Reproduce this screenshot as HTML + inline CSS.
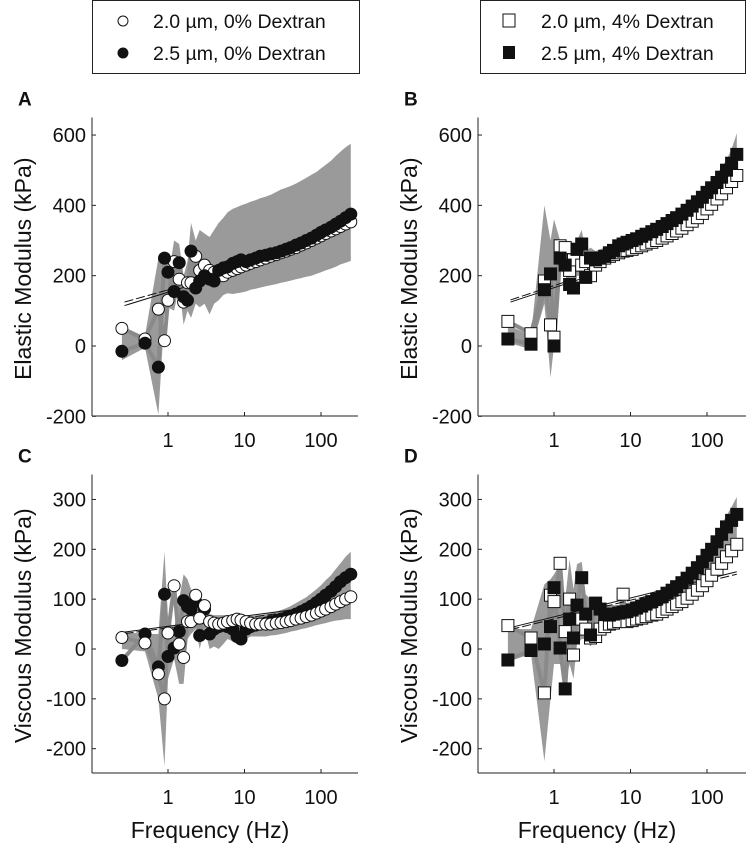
<!DOCTYPE html>
<html><head><meta charset="utf-8">
<style>
body{margin:0;background:#fff;}
svg{display:block;font-family:"Liberation Sans",Arial,sans-serif;}
</style></head>
<body>
<svg id="fig" width="746" height="845" viewBox="0 0 746 845">
<g>
<rect x="92.5" y="0.5" width="267" height="73" fill="#fff" stroke="#222"/>
<circle cx="123" cy="21" r="5" fill="#fff" stroke="#111"/>
<text x="153" y="28" font-size="19.5" fill="#111">2.0 µm, 0% Dextran</text>
<circle cx="123" cy="53" r="5.5" fill="#111"/>
<text x="153" y="60" font-size="19.5" fill="#111">2.5 µm, 0% Dextran</text>
</g>
<g>
<rect x="480.5" y="0.5" width="265" height="73" fill="#fff" stroke="#222"/>
<rect x="503" y="14" width="12" height="13" fill="#fff" stroke="#111"/>
<text x="541" y="28" font-size="19.5" fill="#111">2.0 µm, 4% Dextran</text>
<rect x="503" y="46" width="12" height="13" fill="#111"/>
<text x="541" y="60" font-size="19.5" fill="#111">2.5 µm, 4% Dextran</text>
</g>
</svg>
<script>
const freq=[0.25,0.5,0.75,0.9,1.0,1.2,1.4,1.6,1.8,2.0,2.3,2.6,3.0,3.5,4,4.6,5.3,6,7,8,9,10.5,12,14,16,19,22,26,30,35,40,47,55,64,75,87,100,115,135,155,180,210,245];
const xTicks=[1,10,100];
const xTickLabels=["1","10","100"];
const elasticTicks=[-200,0,200,400,600];
const viscousTicks=[-200,-100,0,100,200,300];

const aOpen=[50,20,105,15,130,240,190,125,180,180,255,215,230,215,210,205,200,210,215,220,225,230,235,240,245,250,255,260,265,270,275,280,287,293,300,307,313,320,327,333,340,347,353];
const aFilled=[-15,8,-60,250,210,155,237,140,130,270,165,185,200,190,185,215,222,225,235,240,245,240,245,250,255,258,262,265,270,275,280,287,293,300,307,315,323,330,338,346,355,365,375];
const aUpper=[40,30,250,260,190,300,290,200,240,350,300,330,320,310,330,350,365,380,390,395,400,405,410,415,420,425,430,438,445,450,455,462,470,478,487,495,505,515,527,540,553,565,575];
const aLower=[-40,-5,-195,90,110,100,170,60,100,80,120,110,120,90,120,130,145,150,148,150,152,155,160,163,166,170,173,176,180,183,186,190,193,197,200,205,210,215,220,225,232,237,242];
const aFitF=[0.27,6];
const aFitSolid=[115,205];
const aFitDashed=[125,207];

const bOpen=[70,35,185,60,25,285,280,215,245,275,230,240,200,230,240,250,255,260,265,270,272,275,280,285,290,295,300,307,313,320,327,335,345,355,365,377,390,403,418,433,450,468,485];
const bFilled=[20,5,160,205,0,250,230,175,165,275,290,195,250,245,250,255,265,272,285,290,295,300,305,312,318,325,332,340,348,357,365,375,386,398,410,423,437,450,465,480,500,520,545];
const bUpper=[60,30,400,300,360,300,280,260,280,300,330,270,280,270,275,280,285,290,300,305,310,315,320,327,333,340,347,355,363,372,380,390,402,415,428,442,457,472,490,508,530,560,605];
const bLower=[10,-10,120,-90,0,220,200,180,150,200,200,190,210,215,225,235,240,245,250,255,258,262,266,270,275,280,285,292,298,305,312,320,330,340,350,362,375,388,402,418,435,452,470];
const bFitF=[0.27,3];
const bFitSolid=[125,200];
const bFitDashed=[131,206];

const cOpen=[23,12,-50,-100,32,127,10,-17,55,55,108,62,87,55,52,50,52,55,57,60,58,55,52,50,50,50,50,52,53,55,57,60,62,65,68,72,76,80,85,90,95,100,105];
const cFilled=[-23,30,-36,110,-15,2,35,97,85,80,95,27,80,30,40,45,48,45,40,25,20,40,45,48,50,52,55,57,60,63,66,70,75,80,86,93,100,108,116,125,135,143,150];
const cUpper=[35,30,30,195,60,40,100,150,140,120,110,100,95,70,68,68,68,68,66,66,66,66,66,67,68,70,72,75,78,82,86,92,98,104,112,120,128,138,148,160,172,185,195];
const cLower=[0,-5,-100,-235,-60,-20,-70,-70,20,30,40,0,40,0,5,0,10,20,15,10,15,20,25,25,25,25,27,28,30,32,35,37,40,42,45,48,50,52,55,57,58,60,60];
const cFitF=[0.27,245];
const cFitSolid=[34,94];
const cFitDashed=[31,90];

const dOpen=[47,22,-88,108,95,172,35,100,-12,60,60,40,22,25,40,45,50,52,55,110,55,57,60,62,65,68,70,75,80,85,90,95,102,110,118,127,137,148,160,172,185,197,210];
const dFilled=[-22,-3,10,45,123,2,-80,60,22,88,143,70,28,92,80,70,68,70,72,74,75,78,82,86,90,95,100,105,112,118,125,133,142,152,163,175,188,200,215,230,245,258,270];
const dUpper=[40,40,130,140,150,170,100,180,120,170,175,110,100,100,95,90,88,88,88,90,92,95,98,102,106,110,115,120,127,133,140,148,157,167,178,190,203,217,232,250,268,285,305];
const dLower=[-25,-10,-225,-100,-30,-30,-70,-30,-60,10,20,20,5,20,30,40,45,48,50,52,53,55,57,60,62,65,67,70,75,80,85,90,96,103,110,118,127,137,148,160,172,185,198];
const dFitF=[0.27,245];
const dFitSolid=[43,155];
const dFitDashed=[39,150];

const NS='http://www.w3.org/2000/svg';
const svg=document.getElementById('fig');
function mk(tag,attrs,parent){const e=document.createElementNS(NS,tag);for(const k in attrs)e.setAttribute(k,attrs[k]);(parent||svg).appendChild(e);return e;}

function panel(cfg){
  const g=mk('g',{});
  
  
  const X=f=>cfg.x1+cfg.dec*Math.log10(f);
  const Y=v=>cfg.y0-(v-cfg.vAt0)*cfg.pxPer;
  let d='';
  freq.forEach((f,i)=>{d+=(i?'L':'M')+X(f).toFixed(1)+' '+Y(cfg.upper[i]).toFixed(1);});
  for(let i=freq.length-1;i>=0;i--)d+='L'+X(freq[i]).toFixed(1)+' '+Y(cfg.lower[i]).toFixed(1);
  const band=mk('path',{d:d+'Z',fill:'#9a9a9a',stroke:'none'},g);
  
  
  [cfg.s1,cfg.s2].forEach((s,k)=>{
    const pl=mk('polyline',{points:freq.map((f,i)=>X(f).toFixed(1)+','+Y(s[i]).toFixed(1)).join(' '),fill:'none',stroke:'#8a8a8a','stroke-width':4},g);
    
    
  });
  const fs=mk('line',{x1:X(cfg.fitF[0]),y1:Y(cfg.fitS[0]),x2:X(cfg.fitF[1]),y2:Y(cfg.fitS[1]),stroke:'#111','stroke-width':1},g);
  
  
  const fd=mk('line',{x1:X(cfg.fitF[0]),y1:Y(cfg.fitD[0]),x2:X(cfg.fitF[1]),y2:Y(cfg.fitD[1]),stroke:'#111','stroke-width':1,'stroke-dasharray':'9 3'},g);
  
  
  const series=[{v:cfg.s1,fill:'#fff',nm:cfg.n1},{v:cfg.s2,fill:'#111',nm:cfg.n2}];
  const order=cfg.filledFirst?[1,0]:[0,1];
  order.forEach(k=>{
    const s=series[k];
    s.v.forEach((v,i)=>{
      let m;
      if(cfg.square){m=mk('rect',{x:(X(freq[i])-6).toFixed(1),y:(Y(v)-6).toFixed(1),width:12,height:12,fill:s.fill,stroke:'#111','stroke-width':1},g);}
      else{m=mk('circle',{cx:X(freq[i]).toFixed(1),cy:Y(v).toFixed(1),r:6,fill:s.fill,stroke:'#111','stroke-width':1},g);}
      
      
    });
  });
  const yTop=Y(cfg.vTop);
  const ya=mk('line',{x1:cfg.ax,y1:yTop,x2:cfg.ax,y2:cfg.ybot,stroke:'#222','stroke-width':1},g);
  
  
  const xa=mk('line',{x1:cfg.ax,y1:cfg.ybot,x2:cfg.xr,y2:cfg.ybot,stroke:'#222','stroke-width':1},g);
  
  
  cfg.yt.forEach(t=>{
    const tk=mk('line',{x1:cfg.ax,y1:Y(t),x2:cfg.ax+4,y2:Y(t),stroke:'#222'},g);
    
    
    const tl=mk('text',{x:cfg.ax-6,y:Y(t)+7,'text-anchor':'end','font-size':20,fill:'#111'},g);
    tl.textContent=String(t);
    
    
  });
  xTicks.forEach((t,i)=>{
    const tk=mk('line',{x1:X(t),y1:cfg.ybot,x2:X(t),y2:cfg.ybot-4,stroke:'#222'},g);
    
    
    const tl=mk('text',{x:X(t),y:cfg.ybot+31,'text-anchor':'middle','font-size':20,fill:'#111'},g);
    tl.textContent=xTickLabels[i];
    
    
  });
  const yt=mk('text',{x:0,y:0,'text-anchor':'middle','font-size':23,fill:'#111',transform:`translate(${cfg.ax-61},${(yTop+cfg.ybot)/2+2}) rotate(-90)`},g);
  yt.textContent=cfg.ytitle;
  
  
  if(cfg.xtitle){
    const xt=mk('text',{x:(cfg.ax+cfg.xr)/2-15,y:838,'text-anchor':'middle','font-size':23,fill:'#111'},g);
    xt.textContent='Frequency (Hz)';
    
    
  }
  const lt=mk('text',{x:cfg.ax-74,y:yTop-12,'font-size':19,'font-weight':'bold',fill:'#111'},g);
  lt.textContent=cfg.letter;
  
  
}
const topCfg={y0:346,vAt0:0,pxPer:0.3516,vTop:650,ybot:416,yt:elasticTicks,ytitle:'Elastic Modulus (kPa)'};
const botCfg={y0:649,vAt0:0,pxPer:0.4985,vTop:350,ybot:773,yt:viscousTicks,ytitle:'Viscous Modulus (kPa)',xtitle:true};
panel(Object.assign({name:'panel-a',letter:'A',ax:92,xr:358,x1:168,dec:76.5,s1:aOpen,s2:aFilled,upper:aUpper,lower:aLower,fitF:aFitF,fitS:aFitSolid,fitD:aFitDashed,n1:'open-circle',n2:'filled-circle',filledFirst:false},topCfg));
panel(Object.assign({name:'panel-b',letter:'B',ax:478,xr:746,x1:554,dec:76.5,s1:bOpen,s2:bFilled,upper:bUpper,lower:bLower,fitF:bFitF,fitS:bFitSolid,fitD:bFitDashed,n1:'open-square',n2:'filled-square',square:true},topCfg));
panel(Object.assign({name:'panel-c',letter:'C',ax:92,xr:358,x1:168,dec:76.5,s1:cOpen,s2:cFilled,upper:cUpper,lower:cLower,fitF:cFitF,fitS:cFitSolid,fitD:cFitDashed,n1:'open-circle',n2:'filled-circle',filledFirst:true},botCfg));
panel(Object.assign({name:'panel-d',letter:'D',ax:478,xr:746,x1:554,dec:76.5,s1:dOpen,s2:dFilled,upper:dUpper,lower:dLower,fitF:dFitF,fitS:dFitSolid,fitD:dFitDashed,n1:'open-square',n2:'filled-square',square:true},botCfg));
</script>
</body></html>
